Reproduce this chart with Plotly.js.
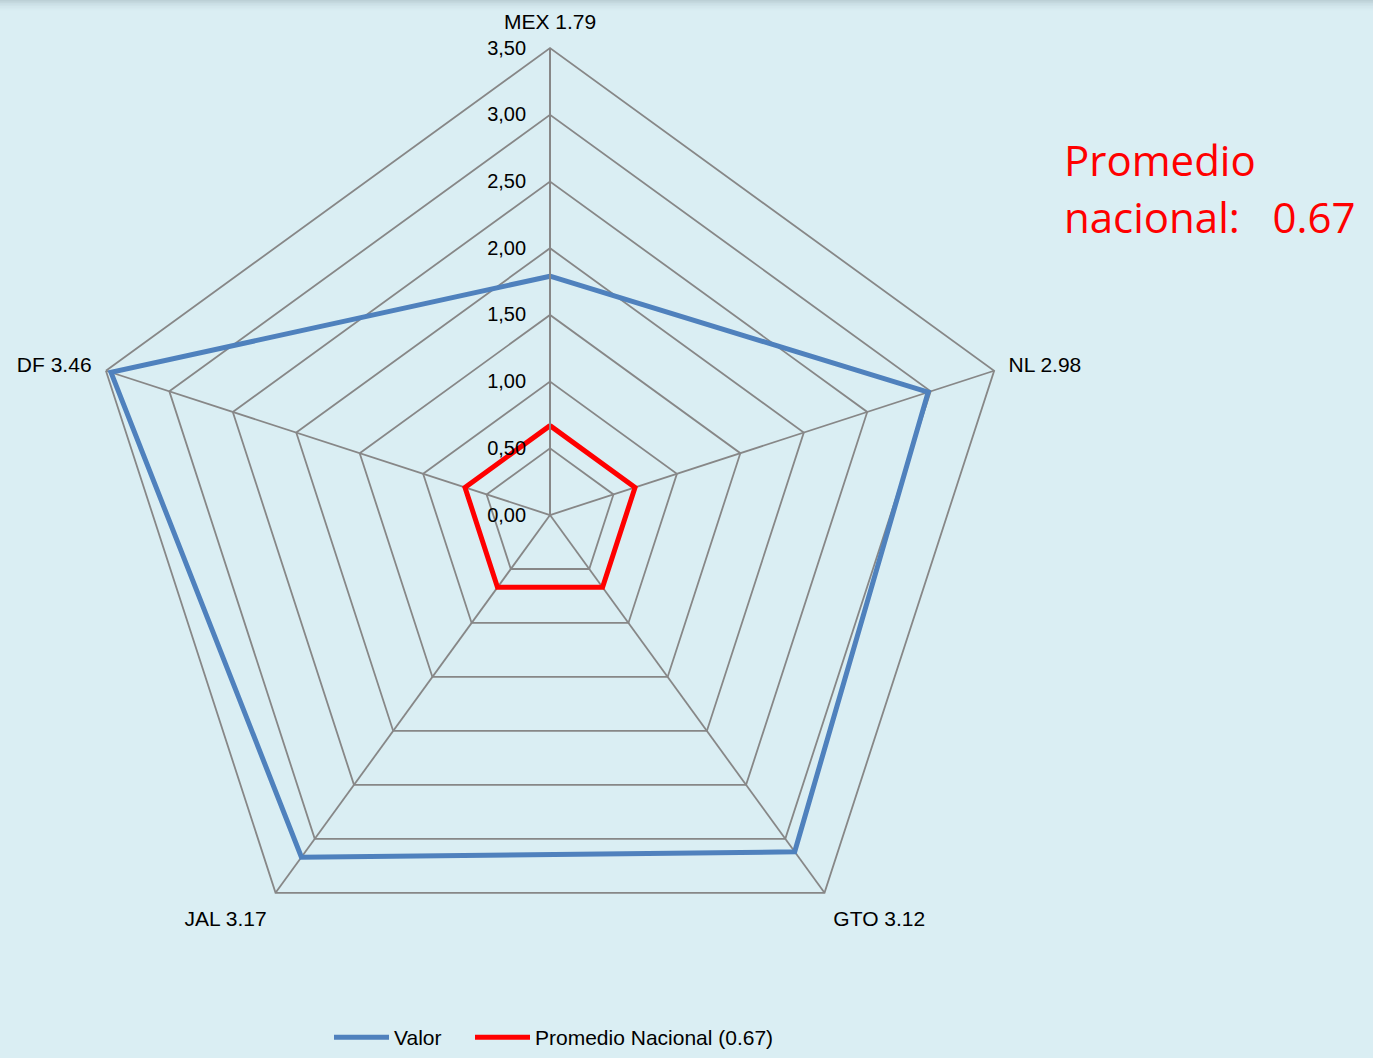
<!DOCTYPE html>
<html>
<head>
<meta charset="utf-8">
<script src="https://cdn.plot.ly/plotly-3.0.1.min.js"></script>
<style>
html,body{margin:0;padding:0;background:#DAEEF3;}
#chart{width:1373px;height:1058px;}
</style>
</head>
<body>
<div id="chart"></div>
<script>
var categories = ["MEX", "NL", "GTO", "JAL", "DF"];
var valor = [1.79, 2.98, 3.12, 3.17, 3.46];
var promedio = [0.67, 0.67, 0.67, 0.67, 0.67];
var promedioNacional = 0.67;
var radialTicks = [0, 0.5, 1, 1.5, 2, 2.5, 3, 3.5];

var tickLabels = categories.map(function(c, i){ return c + " " + valor[i].toFixed(2); });
function closeLoop(a){ return a.concat([a[0]]); }

var traces = [
  {
    type: "scatterpolar",
    mode: "lines",
    name: "Valor",
    r: closeLoop(valor),
    theta: closeLoop(categories),
    line: {color: "#4F81BD", width: 5},
    legend: "legend",
    hoverinfo: "r+theta"
  },
  {
    type: "scatterpolar",
    mode: "lines",
    name: "Promedio Nacional (" + promedioNacional.toFixed(2) + ")",
    r: closeLoop(promedio),
    theta: closeLoop(categories),
    line: {color: "#FF0000", width: 5},
    legend: "legend2",
    hoverinfo: "r+theta"
  }
];

var shapes = [];
var topShade = [0.30, 0.22, 0.16, 0.11, 0.07, 0.04, 0.02];
for (var i = 0; i < topShade.length; i++) {
  shapes.push({type: "rect", xref: "paper", yref: "paper", x0: 0, x1: 1,
    y0: 1 - (i + 1) / 1058 * 1.5, y1: 1 - i / 1058 * 1.5,
    line: {width: 0}, fillcolor: "rgba(120,140,150," + topShade[i] + ")"});
}

var legendBase = {
  orientation: "h",
  xanchor: "left",
  y: 0, yanchor: "bottom",
  font: {size: 21, color: "#000"},
  bgcolor: "rgba(0,0,0,0)",
  itemwidth: 55,
  tracegroupgap: 0
};
var legend1 = Object.assign({}, legendBase, {x: 329 / 1373});
var legend2 = Object.assign({}, legendBase, {x: 470 / 1373});

var annFont = {family: "Open Sans, Noto Sans, sans-serif", size: 42, color: "#FF0000"};

var layout = {
  width: 1373,
  height: 1058,
  margin: {l: 0, r: 0, t: 0, b: 0},
  paper_bgcolor: "#DAEEF3",
  plot_bgcolor: "#DAEEF3",
  separators: ",.",
  font: {family: "Liberation Sans, Arial, sans-serif", size: 20, color: "#000"},
  showlegend: true,
  legend: legend1,
  legend2: legend2,
  polar: {
    domain: {x: [0.0605, 0.7407], y: [0.0718, 0.9546]},
    bgcolor: "#DAEEF3",
    gridshape: "linear",
    angularaxis: {
      type: "category",
      categoryarray: categories,
      rotation: 90,
      direction: "clockwise",
      tickmode: "array",
      tickvals: categories,
      ticktext: tickLabels,
      ticks: "outside",
      ticklen: 10,
      tickcolor: "rgba(0,0,0,0)",
      showline: true,
      linecolor: "#878787",
      linewidth: 1.8,
      gridcolor: "#878787",
      gridwidth: 1.8,
      tickfont: {size: 21, color: "#000"}
    },
    radialaxis: {
      range: [0, 3.5],
      angle: 90,
      side: "counterclockwise",
      tickmode: "array",
      tickvals: radialTicks,
      ticktext: radialTicks.map(function(v){ return v.toFixed(2).replace(".", ","); }),
      ticks: "outside",
      ticklen: 16,
      tickcolor: "rgba(0,0,0,0)",
      showline: true,
      linecolor: "#878787",
      linewidth: 1.8,
      gridcolor: "#878787",
      gridwidth: 1.8,
      tickfont: {size: 20, color: "#000"},
      tickangle: 90
    }
  },
  shapes: shapes,
  annotations: [
    {
      xref: "paper", yref: "paper",
      x: 1062 / 1373, y: 1 - 159 / 1058,
      xanchor: "left", yanchor: "middle",
      align: "left",
      showarrow: false,
      text: "Promedio",
      font: annFont
    },
    {
      xref: "paper", yref: "paper",
      x: 1062 / 1373, y: 1 - 217 / 1058,
      xanchor: "left", yanchor: "middle",
      align: "left",
      showarrow: false,
      text: "nacional:\u00a0\u00a0\u00a0" + promedioNacional.toFixed(2),
      font: annFont
    }
  ]
};

Plotly.newPlot("chart", traces, layout, {displayModeBar: false, staticPlot: true});
</script>
</body>
</html>
